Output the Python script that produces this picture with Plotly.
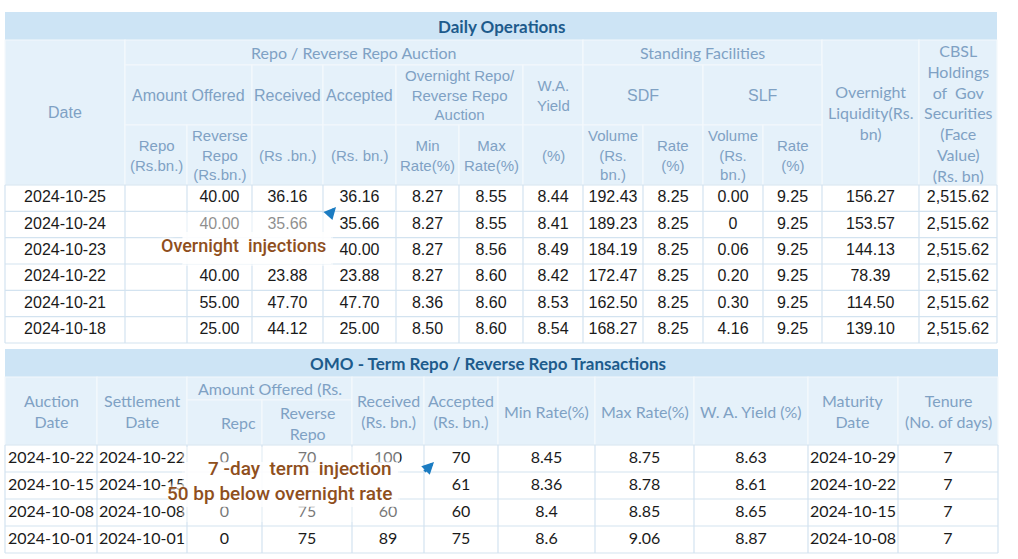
import plotly.graph_objects as go

W, H = 1018, 559

# ---------------- Data: Daily Operations ----------------
daily_dates = ["2024-10-25", "2024-10-24", "2024-10-23", "2024-10-22", "2024-10-21", "2024-10-18"]
repo_offered = [None, None, None, None, None, None]
rev_repo_offered = [40.00, 40.00, None, 40.00, 55.00, 25.00]   # 2024-10-23 hidden under the note
received = [36.16, 35.66, None, 23.88, 47.70, 44.12]           # 2024-10-23 hidden under the note
accepted = [36.16, 35.66, 40.00, 23.88, 47.70, 25.00]
min_rate = [8.27, 8.27, 8.27, 8.27, 8.36, 8.50]
max_rate = [8.55, 8.55, 8.56, 8.60, 8.60, 8.60]
wa_yield = [8.44, 8.41, 8.49, 8.42, 8.53, 8.54]
sdf_volume = [192.43, 189.23, 184.19, 172.47, 162.50, 168.27]
sdf_rate = [8.25, 8.25, 8.25, 8.25, 8.25, 8.25]
slf_volume = [0.00, 0, 0.06, 0.20, 0.30, 4.16]
slf_rate = [9.25, 9.25, 9.25, 9.25, 9.25, 9.25]
overnight_liquidity = [156.27, 153.57, 144.13, 78.39, 114.50, 139.10]
cbsl_holdings = [2515.62, 2515.62, 2515.62, 2515.62, 2515.62, 2515.62]

# ---------------- Data: OMO Term Repo / Reverse Repo ----------------
auction_dates = ["2024-10-22", "2024-10-15", "2024-10-08", "2024-10-01"]
settlement_dates = ["2024-10-22", "2024-10-15", "2024-10-08", "2024-10-01"]
omo_repo = [0, None, 0, 0]          # 2024-10-15 values hidden under the note
omo_rev_repo = [70, None, 75, 75]
omo_received = [100, None, 60, 89]
omo_accepted = [70, 61, 60, 75]
omo_min_rate = [8.45, 8.36, 8.4, 8.6]
omo_max_rate = [8.75, 8.78, 8.85, 9.06]
omo_wa_yield = [8.63, 8.61, 8.65, 8.87]
maturity_dates = ["2024-10-29", "2024-10-22", "2024-10-15", "2024-10-08"]
tenure_days = [7, 7, 7, 7]

# ---------------- Styling / geometry ----------------
ARIAL = "Liberation Sans, Arial, sans-serif"
CALIBRI = "Lato, Carlito, Calibri, sans-serif"
NOTE_FONT = "Roboto, Liberation Sans, sans-serif"
TITLE_FILL = "#cde4f5"
HEAD_FILL = "#e5f1fa"
HEAD_LINE = "#f3f8fc"
GRID = "#d3e3f0"
HEAD_TXT = "#7fa1c4"
TITLE_TXT = "#1d5b8c"
BODY_TXT = "#1a1a1a"
NOTE_TXT = "#8f4f1d"
ARROW = "#1b7cc2"

top_cols = [5, 125, 187, 252, 323, 396, 459, 523, 583, 643, 703, 763, 822, 919, 997]
top_title_y = (12, 40)
top_h = [40, 65, 125, 185]
top_body_y0, top_body_y1 = 185, 343

bot_cols = [5, 97, 187, 262, 352, 424, 498, 595, 694, 808, 898, 998]
bot_title_y = (349, 377)
bot_h = [377, 400, 445]
bot_body_y0, bot_body_y1 = 445, 553

shapes = []
annotations = []
traces = []


def rect(x0, x1, y0, y1, fill, line=None, lw=1, layer="below"):
    shapes.append(dict(type="rect", xref="x", yref="y", x0=x0, x1=x1, y0=y0, y1=y1,
                       fillcolor=fill, line=dict(color=line or fill, width=lw if line else 0),
                       layer=layer))


def label(x, y, text, family=ARIAL, size=15, color=HEAD_TXT, bold=False, xanchor="center"):
    annotations.append(dict(x=x, y=y, xref="x", yref="y", text=text, showarrow=False,
                            xanchor=xanchor, yanchor="middle", align="center",
                            font=dict(family=family, size=size, color=color,
                                      weight="bold" if bold else "normal")))


def fmt2(v):
    if v is None:
        return ""
    if isinstance(v, int):
        return str(v)
    return f"{v:,.2f}"


def fmt(v):
    return "" if v is None else str(v)


def head_cell(cols, c0, c1, y0, y1, text, family=ARIAL, size=15, xanchor="center"):
    x0, x1 = cols[c0], cols[c1]
    rect(x0, x1, y0, y1, HEAD_FILL, HEAD_LINE, 1.2)
    if xanchor == "right":
        label(x1 - 4, (y0 + y1) / 2, text, family, size, xanchor="right")
    else:
        label((x0 + x1) / 2, (y0 + y1) / 2, text, family, size)


# ---------------- Top table ----------------
rect(top_cols[0], top_cols[-1], top_title_y[0], top_title_y[1], TITLE_FILL)
label((top_cols[0] + top_cols[-1]) / 2, sum(top_title_y) / 2, "Daily Operations",
      CALIBRI, 17, TITLE_TXT, bold=True)

h0, h1, h2, h3 = top_h
head_cell(top_cols, 0, 1, h0, h3, "Date", ARIAL, 16)
head_cell(top_cols, 1, 8, h0, h1, "Repo / Reverse Repo Auction", CALIBRI, 16)
head_cell(top_cols, 8, 12, h0, h1, "Standing Facilities", CALIBRI, 16)
head_cell(top_cols, 12, 13, h0, h3, "Overnight<br>Liquidity(Rs.<br>bn)", CALIBRI, 16)
head_cell(top_cols, 13, 14, h0, h3, "CBSL<br>Holdings<br>of  Gov<br>Securities<br>(Face<br>Value)<br>(Rs. bn)", CALIBRI, 16)
head_cell(top_cols, 1, 3, h1, h2, "Amount Offered", ARIAL, 16)
head_cell(top_cols, 3, 4, h1, h2, "Received", ARIAL, 16)
head_cell(top_cols, 4, 5, h1, h2, "Accepted", ARIAL, 16)
head_cell(top_cols, 5, 7, h1, h2, "Overnight Repo/<br>Reverse Repo<br>Auction", ARIAL, 15)
head_cell(top_cols, 7, 8, h1, h2, "W.A.<br>Yield", ARIAL, 15)
head_cell(top_cols, 8, 10, h1, h2, "SDF", ARIAL, 16)
head_cell(top_cols, 10, 12, h1, h2, "SLF", ARIAL, 16)
sub_heads = ["Repo<br>(Rs.bn.)", "Reverse<br>Repo<br>(Rs.bn.)", "(Rs .bn.)", "(Rs. bn.)",
             "Min<br>Rate(%)", "Max<br>Rate(%)", "(%)", "Volume<br>(Rs.<br>bn.)", "Rate<br>(%)",
             "Volume<br>(Rs.<br>bn.)", "Rate<br>(%)"]
for i, t in enumerate(sub_heads):
    head_cell(top_cols, 1 + i, 2 + i, h2, h3, t, ARIAL, 15)

top_columns = [daily_dates, [fmt2(v) for v in repo_offered], [fmt2(v) for v in rev_repo_offered],
               [fmt2(v) for v in received], [fmt2(v) for v in accepted], [fmt2(v) for v in min_rate],
               [fmt2(v) for v in max_rate], [fmt2(v) for v in wa_yield], [fmt2(v) for v in sdf_volume],
               [fmt2(v) for v in sdf_rate], [fmt2(v) for v in slf_volume], [fmt2(v) for v in slf_rate],
               [fmt2(v) for v in overnight_liquidity], [fmt2(v) for v in cbsl_holdings]]
n_top = len(daily_dates)
rh = (top_body_y1 - top_body_y0) / n_top
rect(top_cols[0], top_cols[-1], top_body_y0, top_body_y1, "white")
for i in range(n_top + 1):
    y = top_body_y0 + i * rh
    shapes.append(dict(type="line", xref="x", yref="y", x0=top_cols[0], x1=top_cols[-1], y0=y, y1=y,
                       line=dict(color=GRID, width=1.2), layer="below"))
for x in top_cols:
    shapes.append(dict(type="line", xref="x", yref="y", x0=x, x1=x, y0=top_body_y0, y1=top_body_y1,
                       line=dict(color=GRID, width=1.2), layer="below"))
row_centers = [top_body_y0 + (i + 0.5) * rh for i in range(n_top)]
for c, vals in enumerate(top_columns):
    xc = (top_cols[c] + top_cols[c + 1]) / 2
    traces.append(go.Scatter(x=[xc] * n_top, y=row_centers, text=vals, mode="text",
                             textposition="middle center", hoverinfo="skip", showlegend=False,
                             textfont=dict(family=ARIAL, size=16, color=BODY_TXT)))

# ---------------- Bottom table ----------------
rect(bot_cols[0], bot_cols[-1], bot_title_y[0], bot_title_y[1], TITLE_FILL)
label(488, sum(bot_title_y) / 2, "OMO - Term Repo / Reverse Repo Transactions",
      CALIBRI, 17, TITLE_TXT, bold=True)
b0, b1, b2 = bot_h
head_cell(bot_cols, 0, 1, b0, b2, "Auction<br>Date", CALIBRI, 16)
head_cell(bot_cols, 1, 2, b0, b2, "Settlement<br>Date", CALIBRI, 16)
head_cell(bot_cols, 2, 4, b0, b1, "Amount Offered (Rs.", CALIBRI, 16)
head_cell(bot_cols, 2, 3, b1, b2, "Repc", CALIBRI, 16, xanchor="right")
head_cell(bot_cols, 3, 4, b1, b2, "Reverse<br>Repo", CALIBRI, 16)
head_cell(bot_cols, 4, 5, b0, b2, "Received<br>(Rs. bn.)", CALIBRI, 16)
head_cell(bot_cols, 5, 6, b0, b2, "Accepted<br>(Rs. bn.)", CALIBRI, 16)
head_cell(bot_cols, 6, 7, b0, b2, "Min Rate(%)", CALIBRI, 16)
head_cell(bot_cols, 7, 8, b0, b2, "Max Rate(%)", CALIBRI, 16)
head_cell(bot_cols, 8, 9, b0, b2, "W. A. Yield (%)", CALIBRI, 16)
head_cell(bot_cols, 9, 10, b0, b2, "Maturity<br>Date", CALIBRI, 16)
head_cell(bot_cols, 10, 11, b0, b2, "Tenure<br>(No. of days)", CALIBRI, 16)

bot_columns = [auction_dates, settlement_dates, [fmt(v) for v in omo_repo], [fmt(v) for v in omo_rev_repo],
               [fmt(v) for v in omo_received], [fmt(v) for v in omo_accepted],
               [fmt(v) for v in omo_min_rate], [fmt(v) for v in omo_max_rate],
               [fmt(v) for v in omo_wa_yield], maturity_dates, [fmt(v) for v in tenure_days]]
n_bot = len(auction_dates)
brh = (bot_body_y1 - bot_body_y0) / n_bot
rect(bot_cols[0], bot_cols[-1], bot_body_y0, bot_body_y1, "white")
for i in range(n_bot + 1):
    y = bot_body_y0 + i * brh
    shapes.append(dict(type="line", xref="x", yref="y", x0=bot_cols[0], x1=bot_cols[-1], y0=y, y1=y,
                       line=dict(color=GRID, width=1.2), layer="below"))
for x in bot_cols:
    shapes.append(dict(type="line", xref="x", yref="y", x0=x, x1=x, y0=bot_body_y0, y1=bot_body_y1,
                       line=dict(color=GRID, width=1.2), layer="below"))
brow_centers = [bot_body_y0 + (i + 0.5) * brh for i in range(n_bot)]
for c, vals in enumerate(bot_columns):
    xc = (bot_cols[c] + bot_cols[c + 1]) / 2
    traces.append(go.Scatter(x=[xc] * n_bot, y=brow_centers, text=vals, mode="text",
                             textposition="middle center", hoverinfo="skip", showlegend=False,
                             textfont=dict(family=CALIBRI, size=16, color=BODY_TXT)))

# ---------------- Callouts (overlaid notes) ----------------
GLOW = "0 0 4px #fff, 0 0 6px #fff, 0 0 8px #fff"
rect(182, 333, 213, 266, "rgba(255,255,255,0.5)", layer="above")
rect(183, 331, 232, 264, "rgba(255,255,255,0.8)", layer="above")
rect(182, 400, 447, 522, "rgba(255,255,255,0.4)", layer="above")
rect(185, 398, 462, 507, "rgba(255,255,255,0.8)", layer="above")

annotations.append(dict(x=328, y=245, xref="x", yref="y", text="Overnight  injections", showarrow=False,
                        xanchor="right", yanchor="middle",
                        font=dict(family=NOTE_FONT, size=18, color=NOTE_TXT, weight=500, shadow=GLOW)))
annotations.append(dict(x=394, y=468, xref="x", yref="y", text="7 -day  term  injection", showarrow=False,
                        xanchor="right", yanchor="middle",
                        font=dict(family=NOTE_FONT, size=19, color=NOTE_TXT, weight=500, shadow=GLOW)))
annotations.append(dict(x=394, y=493, xref="x", yref="y", text="50 bp below overnight rate", showarrow=False,
                        xanchor="right", yanchor="middle",
                        font=dict(family=NOTE_FONT, size=19, color=NOTE_TXT, weight=500, shadow=GLOW)))
for (hx, hy, tx, ty) in [(336, 207, 327, 217), (434, 462, 423, 473)]:
    annotations.append(dict(x=hx, y=hy, ax=tx, ay=ty, xref="x", yref="y", axref="x", ayref="y",
                            text="", showarrow=True, arrowhead=2, arrowsize=0.8, arrowwidth=3,
                            arrowcolor=ARROW))

fig = go.Figure(data=traces)
fig.update_layout(
    width=W, height=H, margin=dict(l=0, r=0, t=0, b=0),
    paper_bgcolor="white", plot_bgcolor="white",
    xaxis=dict(range=[0, W], visible=False, fixedrange=True),
    yaxis=dict(range=[H, 0], visible=False, fixedrange=True),
    shapes=shapes, annotations=annotations, showlegend=False,
)
fig.write_html("out.html", config={"displayModeBar": False},
               post_script="document.body.style.margin='0';document.body.style.overflow='hidden';")
